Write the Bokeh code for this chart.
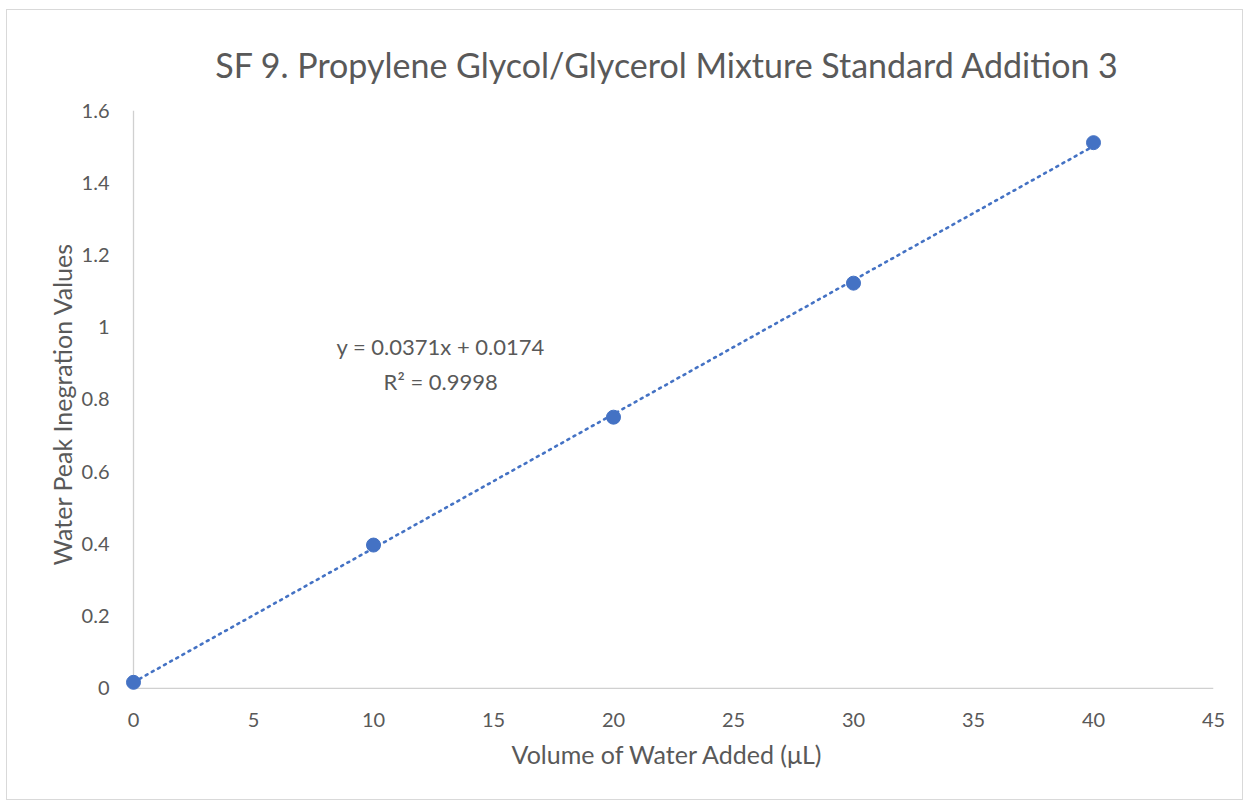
from bokeh.plotting import figure
from bokeh.models import Range1d, FixedTicker
from bokeh.core.properties import value
from bokeh.embed import file_html
from bokeh.resources import INLINE

# ---- data ----
volume_ul = [0, 10, 20, 30, 40]
peak_values = [0.017, 0.397, 0.751, 1.122, 1.511]
fit_coeffs = [0.0371, 0.0174]  # slope, intercept
r_squared = 0.9998
x_ticks = [0, 5, 10, 15, 20, 25, 30, 35, 40, 45]
y_ticks = [0, 0.2, 0.4, 0.6, 0.8, 1.0, 1.2, 1.4, 1.6]
y_tick_labels = ["0", "0.2", "0.4", "0.6", "0.8", "1", "1.2", "1.4", "1.6"]
title_text = "SF 9. Propylene Glycol/Glycerol Mixture Standard Addition 3"
x_label = "Volume of Water Added (μL)"
y_label = "Water Peak Inegration Values"

FONT = "Lato"
TXT = "#595959"
BLUE = "#4472C4"
AXC = "#d0d0d0"

x_min, x_max = 0, 45
y_min, y_max = 0, 1.6

p = figure(
    output_backend="svg", toolbar_location=None,
    width=1235, height=799,
    frame_width=1092, frame_height=587,
    x_range=Range1d(-0.5, x_max), y_range=Range1d(-0.025, y_max),
    min_border_left=114, min_border_right=29, min_border_top=100, min_border_bottom=102,
)
p.outline_line_color = None
p.grid.visible = False
p.background_fill_color = "white"
p.border_fill_color = "white"
p.styles = {"border": "1px solid #d9d9d9", "margin": "9px 0 0 6px"}

p.title.text = title_text
p.title.text_font = FONT
p.title.text_font_size = "34px"
p.title.text_font_style = "normal"
p.title.text_color = TXT
p.title.align = "center"
p.title.offset = 6
p.title.standoff = 51

for ax in (p.xaxis[0], p.yaxis[0]):
    ax.axis_line_color = None
    ax.major_tick_line_color = None
    ax.minor_tick_line_color = None
    ax.major_label_text_font = FONT
    ax.major_label_text_font_size = "20px"
    ax.major_label_text_color = TXT
    ax.axis_label_text_font = FONT
    ax.axis_label_text_font_size = "25px"
    ax.axis_label_text_font_style = "normal"
    ax.axis_label_text_color = TXT

p.xaxis.ticker = FixedTicker(ticks=x_ticks)
p.xaxis.major_label_standoff = 9
p.xaxis.axis_label = x_label
p.xaxis.axis_label_standoff = 9

p.yaxis.ticker = FixedTicker(ticks=y_ticks)
p.yaxis.major_label_overrides = {t: l for t, l in zip(y_ticks, y_tick_labels)}
p.yaxis.major_label_standoff = 6
p.yaxis.axis_label = y_label
p.yaxis.axis_label_standoff = 2

# axis lines
p.segment(x0=[x_min, x_min], y0=[y_min, y_min], x1=[x_min, x_max], y1=[y_max, y_min],
          line_color=AXC, line_width=1.3)

# trendline
xs = [min(volume_ul), max(volume_ul)]
ys = [fit_coeffs[0] * x + fit_coeffs[1] for x in xs]
p.line(xs, ys, line_color=BLUE, line_width=2.6, line_dash="2 5", line_cap="round")

# points
p.scatter(volume_ul, peak_values, size=14, fill_color=BLUE, line_color=BLUE)

# equation
eq = f"y = {fit_coeffs[0]}x + {fit_coeffs[1]}\nR² = {r_squared}"
p.text(x=[12.8], y=[0.897], text=[eq], text_font=value(FONT), text_font_size="22px",
       text_color=TXT, text_align="center", text_baseline="middle", text_line_height=1.3)

open("out.html", "w").write(file_html(p, INLINE))
